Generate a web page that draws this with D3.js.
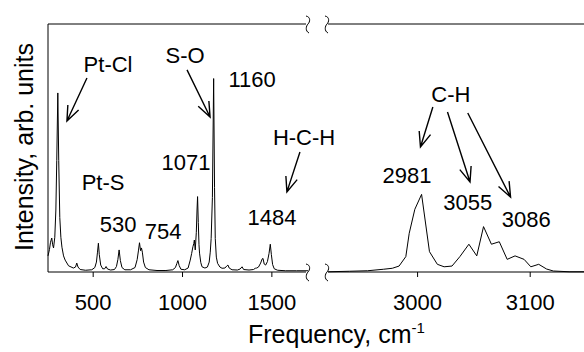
<!DOCTYPE html>
<html><head><meta charset="utf-8">
<script src="https://cdn.jsdelivr.net/npm/d3@7"></script>
<style>
html,body{margin:0;padding:0;background:#fff;}
svg{display:block;font-family:"Liberation Sans",Arial,sans-serif;}
</style></head>
<body><svg id="c" width="584" height="352"></svg>
<script>
// ---- data (frequency cm-1, intensity arb.) ----
const lowFreqSpectrum = [
 [250,6.5],[258,9],[264,12],[271,13.7],[276,11],[281,9.7],[288,14],[294,25],[299,45],[305,72.2],
 [310,45],[316,22],[322,14],[328,10],[337,6.5],[346,4.8],[365,2.5],[392,1.6],[404,2],[411,3.6],
 [418,2],[430,1],[460,0.7],[495,0.9],[512,1.8],[521,4],[527,8],[532,11.6],[537,7],[545,2.8],
 [556,1.3],[567,1.3],[575,2.2],[583,1.2],[600,0.8],[622,1],[633,2.2],[641,5],[648,8.9],[655,4.6],
 [664,1.8],[680,0.9],[712,0.9],[737,1.8],[749,5],[756,8.5],[762,11.8],[768,8.6],[773,9.7],[778,8],
 [785,4],[795,1.8],[815,0.9],[860,0.6],[910,0.6],[948,0.9],[963,1.8],[971,3.4],[977,4.6],[984,2.6],
 [994,1.1],[1015,0.9],[1034,1.6],[1046,4.8],[1054,7.5],[1061,10.2],[1066,11.5],[1069,12.9],[1074,8.9],
 [1080,16],[1084,25],[1087,30.4],[1091,20],[1095,11],[1098,7.6],[1105,3.8],[1112,2.1],[1128,1.6],
 [1142,2],[1152,4],[1158,8],[1163,13.5],[1170,30],[1177,78],[1182,34],[1186,13.5],[1192,6],[1199,3.5],
 [1212,2],[1224,1.5],[1240,1.6],[1250,2.4],[1257,2.8],[1264,1.6],[1280,0.9],[1310,0.8],[1325,1.2],
 [1336,2.1],[1345,1],[1375,0.8],[1400,1],[1410,1.5],[1418,1.6],[1428,2],[1440,3.6],[1448,5.2],
 [1453,5.5],[1460,3.2],[1468,2.8],[1478,4.2],[1487,7.5],[1494,11.2],[1500,7],[1507,3],[1516,1.3],
 [1535,0.7],[1580,0.5],[1640,0.5],[1705,0.5]
];
const chSpectrum = [
 [2921,0.1],[2940,0.3],[2956,0.5],[2970,1.1],[2978,1.5],[2984,2.4],[2990,6.2],[2993,15.6],
 [2998,25.3],[3004,31.3],[3011,8.2],[3018,3.1],[3024,2.1],[3031,2.4],[3038,6.2],[3046,11.2],
 [3053,6.5],[3059,18.3],[3066,11.2],[3073,12.2],[3080,5.1],[3087,6.5],[3095,5.1],[3101,2.1],
 [3108,3.1],[3115,1.2],[3121,0.4],[3135,0.1],[3150,0.1]
];
const leftTicks = [500, 1000, 1500];
const rightTicks = [3000, 3100];
// labels: text, panel, frequency, intensity (label anchor, middle/baseline)
const labelText  = ["Pt-Cl","S-O","1160","H-C-H","1071","Pt-S","530","754","1484","C-H","2981","3055","3086"];
const labelPanel = ["L","L","L","L","L","L","L","L","L","R","R","R","R"];
const labelFreq  = [586,1017,1392,1683,1022,558,642,894,1504,3030,2991,3045,3097];
const labelInt   = [80.6,84.3,74.6,51.2,41.1,33.1,16.1,13.3,19.0,68.5,35.9,25.0,18.1];
// arrows: panel, from [freq,int] -> to [freq,int]
const arrowPanel = ["L","L","L","R","R","R"];
const arrowFrom  = [[468,78.2],[1028,81.5],[1660,48.4],[3014,66.5],[3027,64.5],[3045,64.1]];
const arrowTo    = [[356,60.9],[1157,62.5],[1587,32.3],[3003,50.4],[3047,36.3],[3083,30.2]];

// ---- layout ----
const svg = d3.select("#c");
const yTop = 24, yBot = 272;
const xL = d3.scaleLinear().domain([250, 1705]).range([48, 308]);
const xR = d3.scaleLinear().domain([2920, 3150]).range([327, 586]);
const y = d3.scaleLinear().domain([0, 100]).range([yBot, yTop]);
const xs = p => p === "L" ? xL : xR;

// frame
const g = svg.append("g").attr("stroke", "#000").attr("fill", "none").attr("stroke-width", 1);
g.append("line").attr("x1", 48).attr("x2", 48).attr("y1", yTop).attr("y2", yBot);
[yTop, yBot].forEach(yy => {
  g.append("line").attr("x1", 48).attr("x2", 306).attr("y1", yy).attr("y2", yy);
  g.append("line").attr("x1", 328).attr("x2", 584).attr("y1", yy).attr("y2", yy);
  [307, 326].forEach(bx => {
    g.append("path").attr("transform", `translate(${bx},${yy})`)
      .attr("d", "M-1,-8 C4,-7 3,-2 1,0 C-1,2 -2,7 2,9");
  });
});

// axes (ticks + labels)
function drawAxis(scale, ticks) {
  const ax = d3.axisBottom(scale).tickValues(ticks).tickSize(5).tickPadding(17).tickFormat(d3.format("d"));
  const a = svg.append("g").attr("transform", `translate(0,${yBot})`).call(ax);
  a.select(".domain").remove();
  a.selectAll("line").attr("stroke", "#000");
  a.selectAll("text").attr("font-size", 22).attr("fill", "#000")
    .attr("font-family", "'Liberation Sans',Arial,sans-serif");
}
drawAxis(xL, leftTicks);
drawAxis(xR, rightTicks);

// spectra
const lineL = d3.line().x(d => xL(d[0])).y(d => y(d[1]));
const lineR = d3.line().x(d => xR(d[0])).y(d => y(d[1]));
svg.append("path").datum(lowFreqSpectrum).attr("d", lineL).attr("fill", "none").attr("stroke", "#000").attr("stroke-width", 1);
svg.append("path").datum(chSpectrum).attr("d", lineR).attr("fill", "none").attr("stroke", "#000").attr("stroke-width", 1);

// labels
labelText.forEach((t, i) => {
  svg.append("text").attr("x", xs(labelPanel[i])(labelFreq[i])).attr("y", y(labelInt[i]))
    .attr("text-anchor", "middle").attr("font-size", 22).attr("fill", "#000").text(t);
});

// arrows
arrowPanel.forEach((p, i) => {
  const sx = xs(p);
  const x1 = sx(arrowFrom[i][0]), y1 = y(arrowFrom[i][1]);
  const x2 = sx(arrowTo[i][0]), y2 = y(arrowTo[i][1]);
  const ang = Math.atan2(y2 - y1, x2 - x1), L = 16, h = 0.38;
  const a1 = [x2 - L * Math.cos(ang - h), y2 - L * Math.sin(ang - h)];
  const a2 = [x2 - L * Math.cos(ang + h), y2 - L * Math.sin(ang + h)];
  svg.append("path")
    .attr("d", `M${x1},${y1}L${x2},${y2}M${a1[0]},${a1[1]}L${x2},${y2}L${a2[0]},${a2[1]}`)
    .attr("fill", "none").attr("stroke", "#000").attr("stroke-width", 1.4).attr("stroke-linejoin", "miter");
});

// axis titles
const xt = svg.append("text").attr("x", 248).attr("y", 343).attr("font-size", 25).attr("fill", "#000");
xt.append("tspan").text("Frequency, cm");
xt.append("tspan").attr("dy", -10).attr("font-size", 15).text("-1");
svg.append("text").attr("transform", "translate(33,147) rotate(-90)")
  .attr("text-anchor", "middle").attr("font-size", 25).attr("fill", "#000")
  .text("Intensity, arb. units");
</script></body></html>
